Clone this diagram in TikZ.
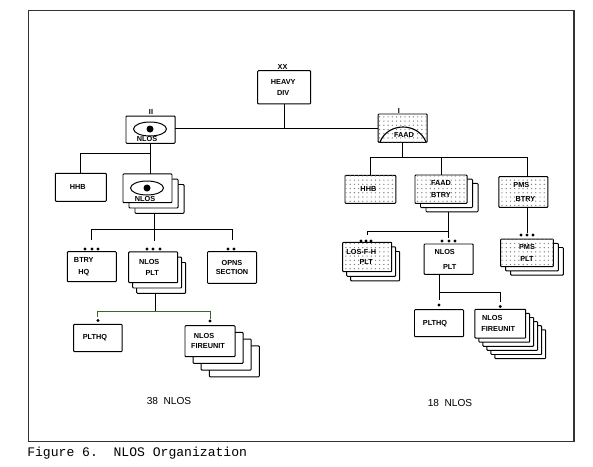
\documentclass[tikz,border=0pt]{standalone}
\usepackage{fontspec}
\setmainfont{Liberation Sans}
\setmonofont{Liberation Mono}
\usepackage{xcolor}
\usepackage{tikz}
\usetikzlibrary{patterns}
\definecolor{bus-green}{RGB}{55,105,40}
\newdimen\pxu \pxu=0.711pt
\def\nudge#1#2{\hspace*{#1\pxu}#2\hspace*{-#1\pxu}}

\begin{document}
\begin{tikzpicture}[x=0.025cm, y=-0.025cm,
            font=\bfseries\fontsize{5.2}{7.2}\selectfont,
            box/.style={draw, rounded corners=0.6pt, fill=white, line width=0.7pt, align=center,
                        inner sep=0pt, outer sep=0pt, minimum width=1.225cm, minimum height=0.75cm},
            stip/.style={box, postaction={pattern=dots, pattern color=black!50}},
            lbl/.style={inner sep=0pt, align=center},
            dot/.style={circle, fill=black, inner sep=0pt, minimum size=2.4pt},
            link/.style={line width=0.7pt}]
          \useasboundingbox (0,0) rectangle (593,467);
          \draw[line width=0.8pt, black!80] (28.4,10.5) rectangle (574,441.7);

          % top of the chart
          \node[box, minimum width=1.325cm, minimum height=0.83cm] (heavy) at (284.2,87.3)
                {\nudge{-1}{HEAVY}\\[0.6pt]\nudge{-1}{DIV}};
          \node[lbl] (heavy-mark) at (282.5,67) {XX};
          \node[box, minimum height=0.68cm] (nlosbn) at (150.5,129.7) {};
          \node[lbl] (nlosbn-mark) at (151,112) {II};
          \draw[line width=0.7pt] (150,129) ellipse (16.5 and 7);
          \fill (150,129) circle (3.5);
          \node[lbl] (nlosbn-lbl) at (147,139) {NLOS};
          \node[stip, minimum height=0.71cm] (faadbn) at (402.7,128.2) {};
          \node[lbl] (faadbn-mark) at (399,111) {I};
          \draw[line width=0.8pt] (380,142) .. controls (388,122) and (418,122) .. (426,142);
          \node[lbl] (faadbn-lbl) at (404,134.7) {FAAD};

          \coordinate (busdiv) at (284.2,128.7);
          \draw[link] (nlosbn.east |- busdiv) -- (faadbn.west |- busdiv);
          \draw[link] (heavy.south) -- (busdiv);

          % left side
          \node[box, minimum width=1.275cm, minimum height=0.7cm] (hhb) at (80.8,187.3) {\nudge{-3}{HHB}};
          \foreach \i in {2,1}
            \node[box, minimum height=0.72cm] (nlosco-\i) at ({147.5+\i*6},{188.3+\i*5.3}) {};
          \node[box, minimum height=0.72cm] (nlosco) at (147.5,188.3) {};
          \draw[line width=0.7pt] (147,188) ellipse (16.5 and 7);
          \fill (147,188) circle (3.5);
          \node[lbl] (nlosco-lbl) at (145,199) {NLOS};

          \coordinate (busa) at (150.5,153.3);
          \draw[link] (nlosbn.south) -- (nlosbn.south |- nlosco.north);
          \draw[link] (busa) -| (hhb.north);

          \node[box] (btryhq) at (91.8,266.7) {\nudge{-8}{BTRY}\\[2pt]\nudge{-8}{HQ}};
          \foreach \i in {2,1}
            \node[box, minimum height=0.77cm] (nlospl-\i) at ({153.2+\i*4},{267.3+\i*5.3}) {};
          \node[box, minimum height=0.77cm] (nlospl) at (153.2,267.3)
                {\nudge{-4}{NLOS}\\[0.5pt]\nudge{-1}{PLT}};
          \node[box, minimum height=0.79cm] (opns) at (232,267.5) {OPNS\\[-1pt]SECTION};
          \foreach \xx in {85,92,98}
            \node[dot] (dota-\xx) at (\xx,249) {};
          \foreach \xx in {147,153,160}
            \node[dot] (dotb-\xx) at (\xx,249) {};
          \foreach \xx in {228,234}
            \node[dot] (dotc-\xx) at (\xx,249) {};

          \coordinate (busb) at (154,229.3);
          \draw[link] (busb |- nlosco-2.south) -- (busb);
          \draw[link, shorten >=8pt] (busb) -| (btryhq.north);
          \draw[link, shorten >=8pt] (busb) -| (opns.north);
          \draw[link, shorten >=8pt] (busb) -- (busb |- nlospl.north);

          \node[box, minimum width=1.21cm, minimum height=0.685cm] (plthq) at (97.9,338) {\nudge{-3}{PLTHQ}};
          \foreach \i in {3,2,1}
            \node[box, minimum width=1.25cm, minimum height=0.775cm] (nlosfu-\i) at ({210+\i*8.1},{341.2+\i*6.7}) {};
          \node[box, minimum width=1.25cm, minimum height=0.775cm] (nlosfu) at (210,341.2)
                {\nudge{-6}{NLOS}\\[0.3pt]\nudge{-2}{FIREUNIT}};
          \node[dot] (dotd) at (98,320.5) {};
          \node[dot] (dote) at (210,321) {};

          \coordinate (busc) at (155.7,311.7);
          \draw[link] (busc |- nlospl-2.south) -- (busc);
          \draw[link, bus-green, shorten >=5pt] (busc) -| (plthq.north);
          \draw[link, bus-green, shorten >=5pt] (busc) -| (nlosfu.north);
          \node[lbl, font=\fontsize{7.2}{9}\selectfont] (total-left) at (169,400.7) {38~~NLOS};

          % right side
          \node[stip, minimum width=1.27cm, minimum height=0.7cm] (hhbr) at (370.4,189.3) {\nudge{-2}{HHB}};
          \foreach \i in {2,1}
            \node[box, minimum width=1.3cm, minimum height=0.71cm] (faadbt-\i) at ({441+\i*5.5},{189.2+\i*4.2}) {};
          \node[stip, minimum width=1.3cm, minimum height=0.71cm] (faadbt) at (441,189.2)
                {FAAD\\[1.5pt]BTRY};
          \node[stip, minimum height=0.765cm] (pmsbt) at (523.4,192) {\nudge{-2}{PMS}\\[3pt]\nudge{2}{BTRY}};
          \foreach \i in {2,1}
            \node[box, minimum width=1.315cm, minimum height=0.69cm] (pmspl-\i) at ({527+\i*5},{252.9+\i*4.2}) {};
          \node[stip, minimum width=1.315cm, minimum height=0.69cm] (pmspl) at (527,252.9)
                {PMS\\[1.5pt]PLT};
          \foreach \i in {2,1}
            \node[box, minimum height=0.735cm] (losfh-\i) at ({367.2+\i*4},{257+\i*4.6}) {};
          \node[stip, minimum height=0.735cm] (losfh) at (367.2,257)
                {\nudge{-6}{LOS-F-H}\\\nudge{-1}{PLT}};
          \node[box, minimum height=0.76cm] (nlospr) at (448.7,259.2)
                {\nudge{-4}{NLOS}\\[3.5pt]\nudge{1}{PLT}};
          \foreach \xx in {361,366,371}
            \node[dot] (dotf-\xx) at (\xx,241) {};
          \foreach \xx in {442,449,455}
            \node[dot] (dotg-\xx) at (\xx,241) {};
          \foreach \xx in {521,527,533}
            \node[dot] (doth-\xx) at (\xx,235) {};

          \coordinate (busd) at (401.7,157.3);
          \draw[link] (faadbn.south) -- (faadbn.south |- busd);
          \draw[link] (busd) -| (hhbr.north);
          \draw[link] (busd) -| (faadbt.north);
          \draw[link] (busd) -| (pmsbt.north -| pmspl.north);
          \draw[link, shorten >=4pt] (pmsbt.south -| pmspl.north) -- (pmspl.north);

          \coordinate (buse) at (448.7,231);
          \draw[link] (buse |- faadbt-2.south) -- (buse);
          \draw[link, shorten >=5.5pt] (buse) -| (losfh.north);
          \draw[link, shorten >=4pt] (buse) -- (buse |- nlospr.north);

          \node[box, minimum height=0.675cm] (plthqr) at (439,323.2) {\nudge{-4}{PLTHQ}};
          \foreach \i in {5,4,3,2,1}
            \node[box, minimum width=1.27cm, minimum height=0.72cm] (nlosfr-\i) at ({500.3+\i*4},{323.7+\i*4.1}) {};
          \node[box, minimum width=1.27cm, minimum height=0.72cm] (nlosfr) at (500.3,323.7)
                {\nudge{-8}{NLOS}\\[0.5pt]\nudge{-2}{FIREUNIT}};
          \node[dot] (doti) at (439,305) {};
          \node[dot] (dotj) at (500.3,306.5) {};

          \coordinate (busf) at (439,292.7);
          \draw[link, shorten >=7pt] (plthqr.north |- nlospr.south) -- (plthqr.north);
          \draw[link, shorten >=5pt] (busf) -| (nlosfr.north);
          \node[lbl, font=\fontsize{7.2}{9}\selectfont] (total-right) at (450,402.7) {18~~NLOS};

          \node[anchor=base west, inner sep=0pt, font=\ttfamily\fontsize{9.3}{11}\selectfont] (caption)
                at (27,456.5) {Figure 6.~~NLOS Organization};
        \end{tikzpicture}
\end{document}
